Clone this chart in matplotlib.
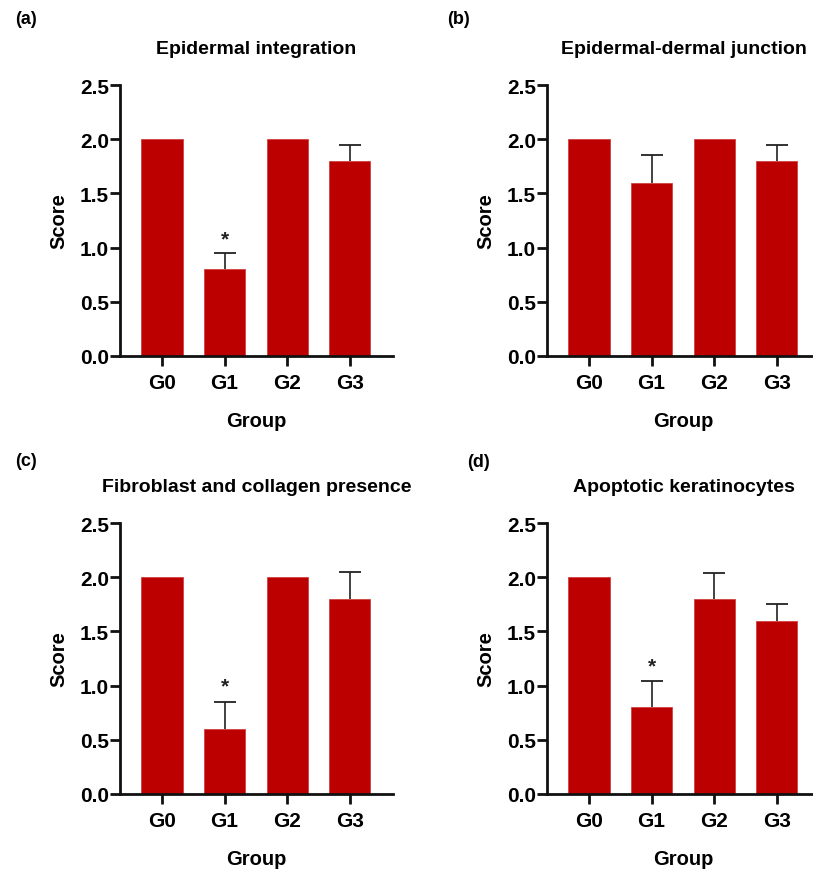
import matplotlib
matplotlib.use("Agg")
import matplotlib.pyplot as plt
import numpy as np

plt.rcParams['font.family'] = ['Liberation Sans', 'DejaVu Sans']
plt.rcParams['font.weight'] = 'bold'

groups = ["G0", "G1", "G2", "G3"]
titles = ["Epidermal integration", "Epidermal-dermal junction",
          "Fibroblast and collagen presence", "Apoptotic keratinocytes"]
panel_labels = ["(a)", "(b)", "(c)", "(d)"]
means_a = [2.0, 0.8, 2.0, 1.8]
err_a = [0.0, 0.15, 0.0, 0.15]
means_b = [2.0, 1.6, 2.0, 1.8]
err_b = [0.0, 0.25, 0.0, 0.15]
means_c = [2.0, 0.6, 2.0, 1.8]
err_c = [0.0, 0.245, 0.0, 0.245]
means_d = [2.0, 0.8, 1.8, 1.6]
err_d = [0.0, 0.24, 0.24, 0.15]
# significance markers (index of group, y position)
stars_a = [(1, 1.08)]
stars_b = []
stars_c = [(1, 1.0)]
stars_d = [(1, 1.18)]

W, H = 813, 870
fig = plt.figure(figsize=(W / 100, H / 100), dpi=100)

bar_color = '#BC0000'
panels = [
    (means_a, err_a, stars_a, 120, 86, 357, (15, 20)),
    (means_b, err_b, stars_b, 547, 86, 357, (447, 20)),
    (means_c, err_c, stars_c, 120, 524, 795, (15, 462)),
    (means_d, err_d, stars_d, 547, 524, 795, (467, 463)),
]
axw = 273

for i, (m, e, stars, x0, ytop, ybot, lab) in enumerate(panels):
    ax = fig.add_axes([x0 / W, 1 - ybot / H, axw / W, (ybot - ytop) / H])
    x = np.arange(len(groups))
    m = np.array(m)
    errs = np.array(e)
    has = errs > 0
    # error bars (upper only): stem + cap
    ax.vlines(x[has], m[has], m[has] + errs[has], color='#222222', linewidth=1.2, zorder=1)
    ax.plot(x[has], m[has] + errs[has], linestyle='none', marker='_', markersize=16,
            markeredgewidth=1.3, color='#222222', zorder=1)
    ax.bar(x, m, width=0.66, color=bar_color, edgecolor='#D04040', linewidth=0.6, zorder=2)
    for gi, yy in stars:
        ax.text(gi, yy, '*', ha='center', va='center', fontsize=15, fontweight='bold', color='#222222')
    ax.set_xlim(-0.67, 3.69)
    ax.set_ylim(0, 2.5)
    ax.set_yticks([0, 0.5, 1.0, 1.5, 2.0, 2.5])
    ax.set_yticklabels(['0.0', '0.5', '1.0', '1.5', '2.0', '2.5'])
    ax.set_xticks(x)
    ax.set_xticklabels(groups)
    for s in ['top', 'right']:
        ax.spines[s].set_visible(False)
    for s in ['left', 'bottom']:
        ax.spines[s].set_linewidth(2.0)
        ax.spines[s].set_color('#111111')
    ax.tick_params(axis='both', width=2.0, length=7, color='#111111', labelsize=15, pad=1)
    ax.tick_params(axis='x', pad=5)
    for t in ax.get_xticklabels() + ax.get_yticklabels():
        t.set_fontweight('bold')
    ax.set_ylabel('Score', fontsize=14.5, fontweight='bold', labelpad=8)
    ax.set_xlabel('Group', fontsize=14.5, fontweight='bold', labelpad=14)
    ax.text(0.5, 1 + 37 / (ybot - ytop), titles[i], transform=ax.transAxes,
            ha='center', va='center', fontsize=14, fontweight='bold')
    fig.text(lab[0] / W, 1 - lab[1] / H, panel_labels[i], ha='left', va='center',
             fontsize=13, fontweight='bold')

fig.savefig('out.png', dpi=100)
